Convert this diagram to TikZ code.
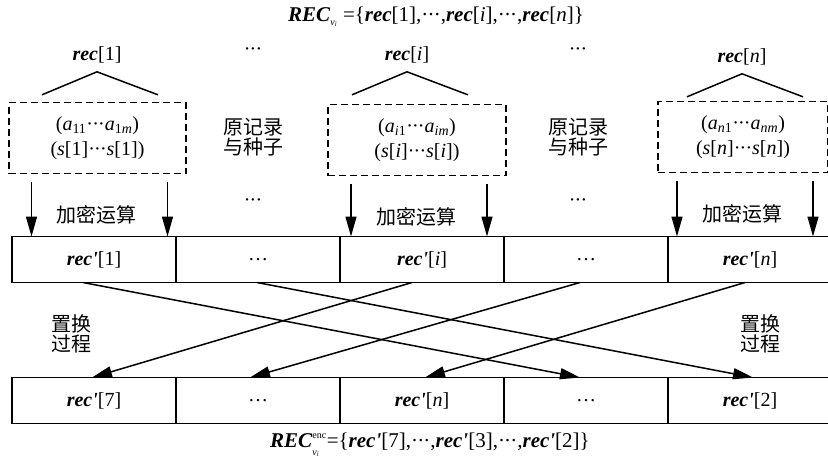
\documentclass[tikz,border=0pt]{standalone}
\usepackage{fontspec}
\setmainfont{Liberation Serif}
\newfontfamily\cjk{Noto Sans CJK SC}
\usepackage{tikz}
\usetikzlibrary{arrows.meta,calc,positioning}
\tikzstyle{cell}=[draw, line width=1.6pt, minimum width=164pt, minimum height=46pt,
  inner sep=0pt, outer sep=0pt, text centered]
\tikzstyle{recbox}=[draw, line width=1.4pt, dash pattern=on 7pt off 4pt,
  minimum height=71pt, inner sep=0pt, align=center]
\tikzstyle{texto}=[font=\cjk\fontsize{20}{20.5}\selectfont, align=center]
\tikzstyle{formula}=[font=\fontsize{21}{25}\selectfont]
\tikzstyle{line}=[draw, line width=1.5pt, -{Triangle[length=20pt,width=11pt]}]
\tikzstyle{roof}=[draw, line width=1.5pt]
\newcommand{\mdots}{\mbox{·\kern-0.04em·\kern-0.04em·}}
\newcommand{\recitem}[1]{\textbf{\textit{rec}}[#1]}
\newcommand{\recenc}[1]{\textbf{\textit{rec\textquotesingle}}[#1]}
\newcommand{\tinyfont}{\fontsize{10}{10}\selectfont}

\begin{document}
\begin{tikzpicture}[x=1pt,y=-1pt,font=\fontsize{20}{25}\selectfont]
  \useasboundingbox (0,0) rectangle (828,466);

  % record set before encryption
  \node[formula] (title) at (436,17) {\textbf{\textit{REC}}$_{\hbox{\tinyfont\textit{v}\textsubscript{\textit{i}}}}$
    =\{\recitem{1},\mdots,\recitem{\textit{i}},\mdots,\recitem{\textit{n}}\}};

  % records and seeds
  \node[recbox, minimum width=177pt] (rb1) at (97.5,138)
    {(\textit{a}\textsubscript{11}\mdots\textit{a}\textsubscript{1\textit{m}})\\(\textit{s}[1]\mdots\textit{s}[1])};
  \node[recbox, minimum width=178pt] (rbi) at (417,140)
    {(\textit{a}\textsubscript{\textit{i}1}\mdots\textit{a}\textsubscript{\textit{im}})\\(\textit{s}[\textit{i}]\mdots\textit{s}[\textit{i}])};
  \node[recbox, minimum width=170pt] (rbn) at (743,137)
    {(\textit{a}\textsubscript{\textit{n}1}\mdots\textit{a}\textsubscript{\textit{nm}})\\(\textit{s}[\textit{n}]\mdots\textit{s}[\textit{n}])};

  \node (lab1) at (97,55) {\recitem{1}};
  \node (labi) at (407,55) {\recitem{\textit{i}}};
  \node (labn) at (742,57) {\recitem{\textit{n}}};

  \node (dots1) at (253,52) {\mdots};
  \node (dots2) at (578,52) {\mdots};
  \node (dots3) at (253,203) {\mdots};
  \node (dots4) at (578,203) {\mdots};
  \node[texto] (orig1) at (253,137) {原记录\\与种子};
  \node[texto] (orig2) at (578,137) {原记录\\与种子};

  % encrypted records
  \node[cell] (c1) at (94,259.5) {\recenc{1}};
  \node[cell, right=0pt of c1] (c2) {\ldots};
  \node[cell, right=0pt of c2] (c3) {\recenc{\textit{i}}};
  \node[cell, right=0pt of c3] (c4) {\ldots};
  \node[cell, right=0pt of c4] (c5) {\recenc{\textit{n}}};

  % permuted records
  \node[cell] (d1) at ($(c1)+(0,141)$) {\recenc{7}};
  \node[cell, right=0pt of d1] (d2) {\ldots};
  \node[cell, right=0pt of d2] (d3) {\recenc{\textit{n}}};
  \node[cell, right=0pt of d3] (d4) {\ldots};
  \node[cell, right=0pt of d4] (d5) {\recenc{2}};

  \node[formula] (result) at (430,445) {\textbf{\textit{REC}}$^{\raisebox{2pt}{\tinyfont enc}}_{\raisebox{-2pt}{\tinyfont\textit{v}\textsubscript{\textit{i}}}}$%
    =\{\recenc{7},\mdots,\recenc{3},\mdots,\recenc{2}\}};

  \node[texto] (perm1) at (71,334) {置换\\过程};
  \node[texto] (perm2) at (760,334) {置换\\过程};

  % roofs over the records
  \foreach \l in {lab1,labi,labn}{
    \path ($(\l.south)+(0,5)$) coordinate (apex);
    \path [roof] ($(apex)+(-55,23)$) -- (apex) -- ($(apex)+(61,23)$);
  }

  % encryption arrows
  \foreach \b/\c in {rb1/c1,rbi/c3,rbn/c5}{
    \path ($(\b.south)+(-66,8)$) coordinate (s1) ($(\b.south)+(70,8)$) coordinate (s2);
    \path [line] (s1) -- (s1 |- \c.north);
    \path [line] (s2) -- (s2 |- \c.north);
    \node[texto] at ($(\b.south)+(-1,41)$) {加密运算};
  }

  % permutation
  \path [line] ([xshift=-11pt]c1.south) -- ([xshift=-6pt]d4.north);
  \path [line] ([xshift=-1pt]c2.south) -- ([xshift=3pt]d5.north);
  \path [line] ([xshift=-10pt]c3.south) -- ([xshift=-2pt]d1.north);
  \path [line] ([xshift=-6pt]c4.south) -- ([xshift=-8pt]d2.north);
  \path [line] ([xshift=-5pt]c5.south) -- ([xshift=3pt]d3.north);

\end{tikzpicture}
\end{document}
